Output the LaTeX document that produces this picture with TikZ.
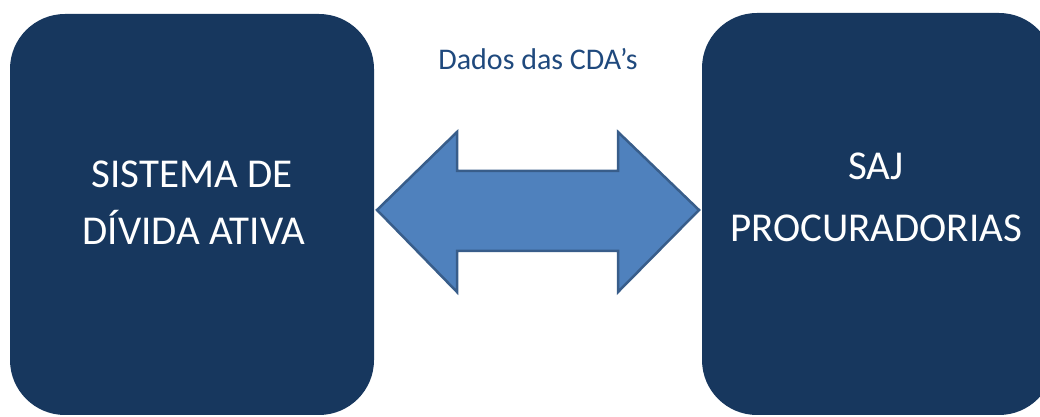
\documentclass[tikz,border=0pt]{standalone}
\usepackage{fontspec}
\setmainfont{Carlito}
\definecolor{boxnavy}{HTML}{17375E}
\definecolor{labelblue}{HTML}{1F497D}
\definecolor{arrowfill}{HTML}{4F81BD}
\definecolor{arrowline}{HTML}{385D8A}
\begin{document}
\begin{tikzpicture}[x=1pt,y=1pt,
  sysbox/.style={fill=boxnavy, rounded corners=55pt},
  boxtext/.style={text=white, font=\fontsize{41}{49}\selectfont, anchor=base, inner sep=0pt},
  labeltext/.style={text=labelblue, font=\fontsize{30}{36}\selectfont, anchor=base, inner sep=0pt}]
\useasboundingbox (0,0) rectangle (1040,417);
\clip (0,0) rectangle (1040,417);
% boxes
\fill[sysbox] (10,2) rectangle (374,403);
\fill[sysbox] (702,2) rectangle (1054,404);
% texts
\node[boxtext] (l1) at (192,229) {SISTEMA DE};
\node[boxtext] (l2) at (194,172) {DÍVIDA ATIVA};
\node[boxtext] (r1) at (876,237) {SAJ};
\node[boxtext] (r2) at (876,175) {PROCURADORIAS};
\node[labeltext] (lab) at (538,347) {Dados das CDA’s};
% double block arrow
\draw[fill=arrowfill, draw=arrowline, line width=2.5pt, line join=miter]
  (377,207) -- (457,285) -- (457,246) -- (618,246) -- (618,285) -- (699,207)
  -- (618,125) -- (618,166) -- (457,166) -- (457,125) -- cycle;
\end{tikzpicture}
\end{document}
